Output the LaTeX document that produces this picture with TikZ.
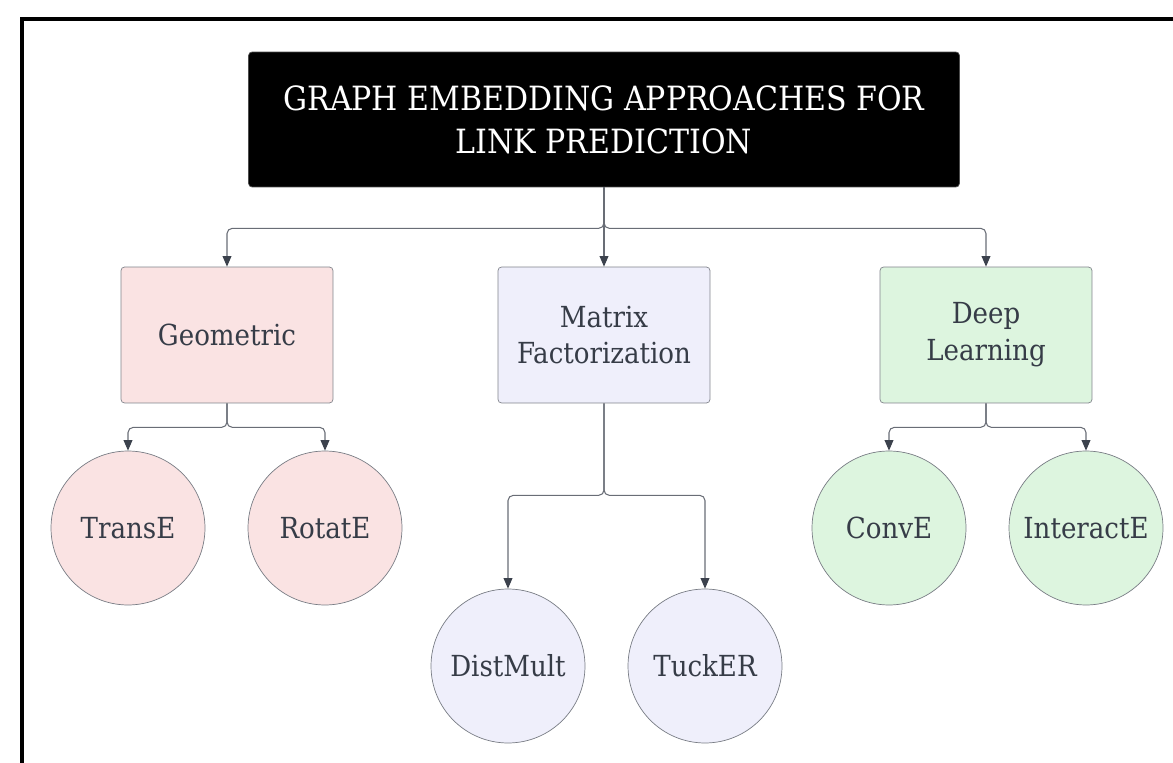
\documentclass[tikz,border=0pt]{standalone}
\usepackage{fontspec}
\setmainfont{DejaVu Serif Condensed}
\usetikzlibrary{arrows.meta}

\definecolor{linegray}{HTML}{696D76}
\definecolor{tipgray}{HTML}{3C424D}
\definecolor{txtgray}{HTML}{363C47}
\definecolor{geofill}{HTML}{FAE3E3}
\definecolor{matfill}{HTML}{EFEFFB}
\definecolor{deepfill}{HTML}{DDF5DF}

\tikzset{
  titlebox/.style={fill=black, draw=black!70, rounded corners=2pt, minimum width=14.22cm,
    minimum height=2.7cm, text=white, align=center, font=\fontsize{19}{24.5}\selectfont},
  kindbox/.style={draw=linegray!85, rounded corners=2pt, minimum width=4.24cm,
    minimum height=2.72cm, text=txtgray, align=center, font=\fontsize{16.5}{21}\selectfont},
  model/.style={circle, draw=linegray!90, minimum size=3.08cm, inner sep=0pt,
    text=txtgray, font=\fontsize{16.5}{21}\selectfont},
  link/.style={draw=linegray, line width=0.6pt, rounded corners=3pt,
    -{Triangle[width=5pt,length=6pt,color=tipgray]}}
}

\begin{document}
\begin{tikzpicture}[x=0.02cm, y=-0.02cm]
\useasboundingbox (0,0) rectangle (1173,763);
\draw[line width=2pt] (22,763) -- (22,19) -- (1173,19);

\node[titlebox] (title) at (604,119.5) {GRAPH EMBEDDING APPROACHES FOR\\LINK PREDICTION};

% second row
\node[kindbox, fill=geofill] (geo) at (227,335) {Geometric};
\node[kindbox, fill=matfill] (mat) at (604,335) {Matrix\\Factorization};
\node[kindbox, fill=deepfill] (deep) at (986,335) {Deep\\Learning};

% leaves
\node[model, fill=geofill] (transe) at (128,528) {TransE};
\node[model, fill=geofill] (rotate) at (325,528) {RotatE};
\node[model, fill=matfill] (distmult) at (508,666) {DistMult};
\node[model, fill=matfill] (tucker) at (705,666) {TuckER};
\node[model, fill=deepfill] (conve) at (889,528) {ConvE};
\node[model, fill=deepfill] (interacte) at (1086,528) {InteractE};

\draw[link] (title.south) -- ++(0,41) -| (geo.north);
\draw[link] (title.south) -- (mat.north);
\draw[link] (title.south) -- ++(0,41) -| (deep.north);

\draw[link] (geo.south) -- ++(0,24) -| (transe.north);
\draw[link] (geo.south) -- ++(0,24) -| (rotate.north);

\draw[link] (mat.south) -- ++(0,92) -| (distmult.north);
\draw[link] (mat.south) -- ++(0,92) -| (tucker.north);

\draw[link] (deep.south) -- ++(0,24) -| (conve.north);
\draw[link] (deep.south) -- ++(0,24) -| (interacte.north);
\end{tikzpicture}
\end{document}
